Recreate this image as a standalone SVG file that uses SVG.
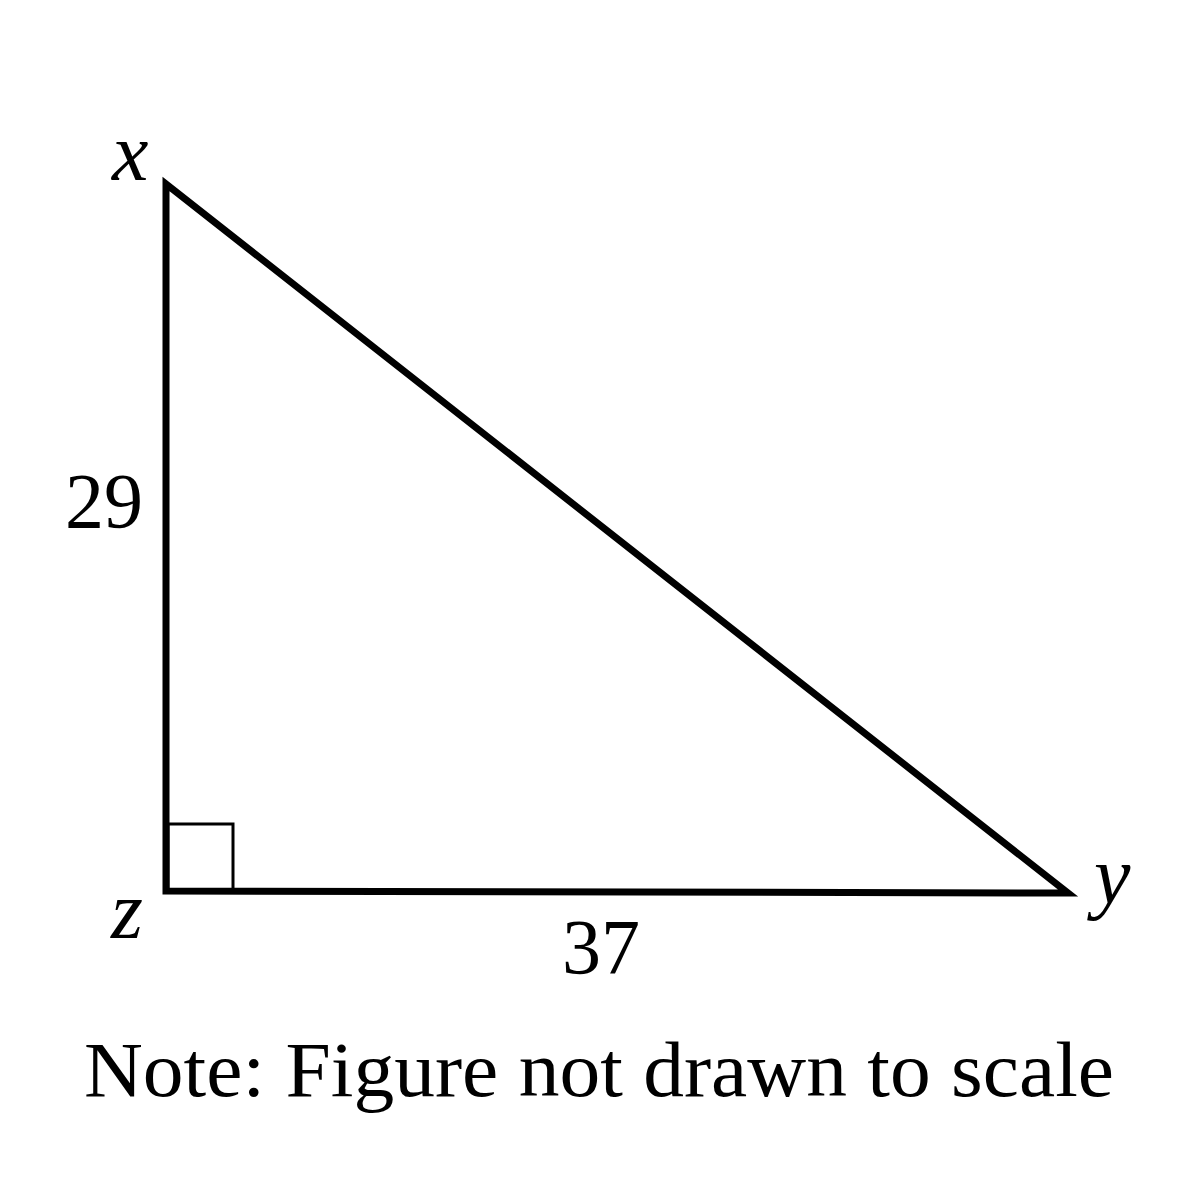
<svg xmlns="http://www.w3.org/2000/svg" width="1200" height="1200" viewBox="0 0 1200 1200">
<style>
.t{font-family:"Liberation Serif","Times New Roman",serif;font-size:78px;fill:#000}
.i{font-style:italic;font-size:82px}
.edge{stroke:#000;stroke-width:7;fill:none;stroke-linejoin:miter}
</style>
<rect width="1200" height="1200" fill="#fff"/>
<g id="connectors">
<path class="edge" d="M166,184 L166,891 L1068,893 Z"/>
<rect x="168" y="824" width="65" height="66" fill="none" stroke="#000" stroke-width="3"/>
</g>
<g id="node-x"><text class="t i" x="112" y="180">x</text></g>
<g id="node-z"><text class="t i" x="111" y="938">z</text></g>
<g id="node-y"><text class="t i" x="1094" y="903">y</text></g>
<g id="label-29"><text class="t" x="65" y="527">29</text></g>
<g id="label-37"><text class="t" x="562" y="973">37</text></g>
<g id="note"><text class="t" x="84" y="1096" textLength="1030" lengthAdjust="spacingAndGlyphs">Note: Figure not drawn to scale</text></g>
</svg>
